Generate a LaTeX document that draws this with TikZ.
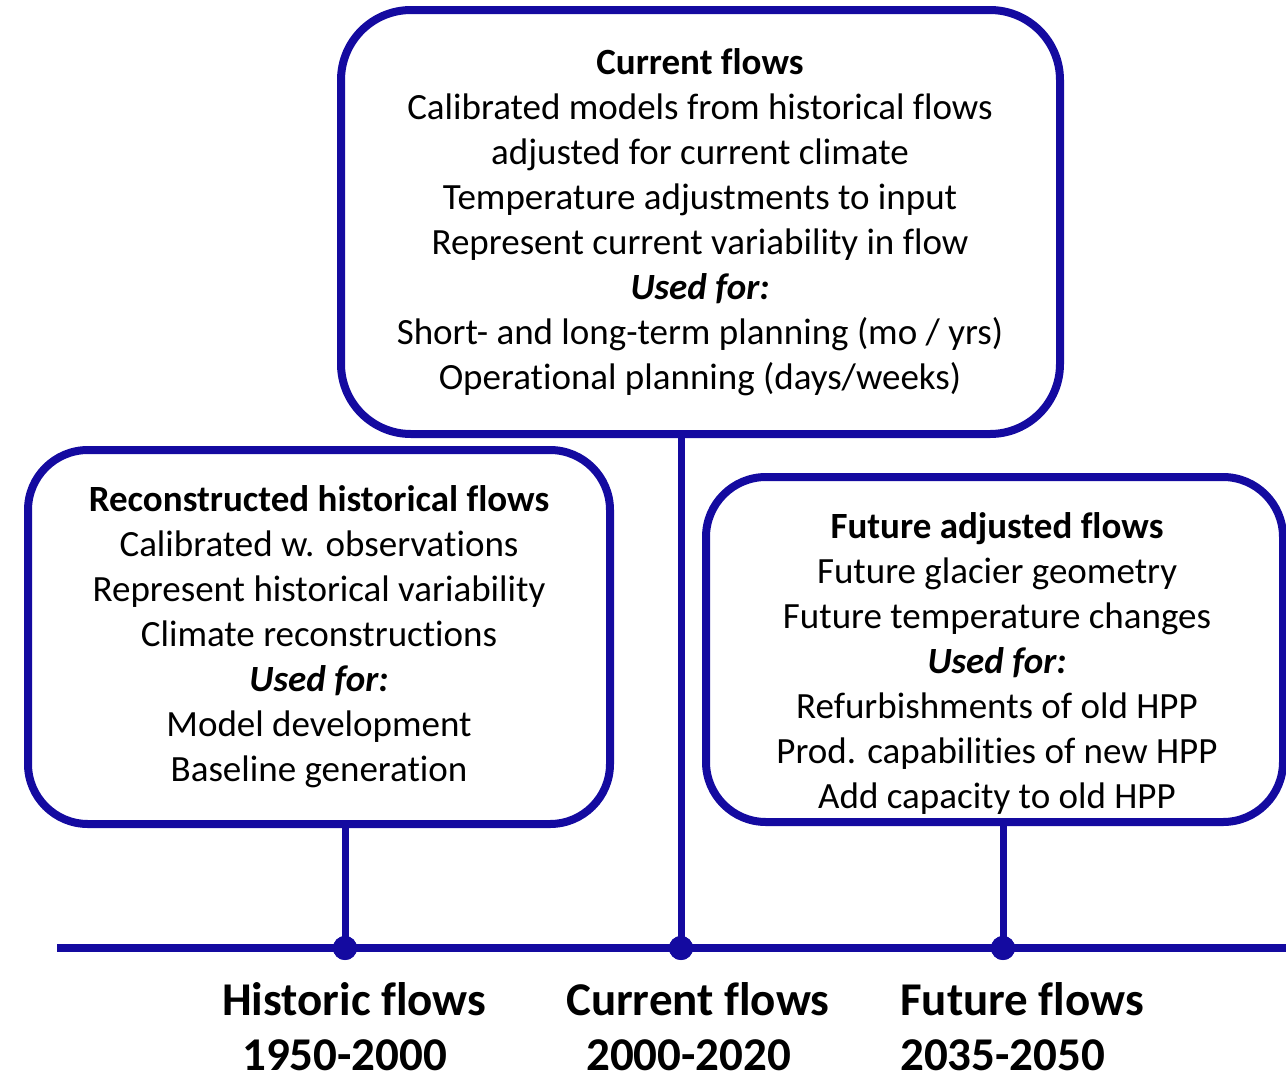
\documentclass[tikz,border=0pt]{standalone}
\usepackage{fontspec}
\setmainfont{Carlito}[RawFeature={-liga;-clig;-calt;-dlig}]
\definecolor{tlblue}{RGB}{20,10,160}
\begin{document}
\begin{tikzpicture}[x=1pt,y=-1pt,
  box/.style={draw=tlblue, line width=8pt, rounded corners=60pt, inner sep=0pt},
  txt/.style={align=center, font=\fontsize{37}{45}\selectfont, inner sep=0pt},
  lbl/.style={anchor=west, font=\fontsize{47}{54}\selectfont\bfseries, inner sep=0pt},
  link/.style={draw=tlblue, line width=7pt},
  dot/.style={circle, fill=tlblue, minimum size=24pt, inner sep=0pt}]
\clip (0,0) rectangle (1286,1072);
\fill[white] (0,0) rectangle (1286,1072);
% boxes
\node[box, rounded corners=70pt, minimum width=719pt, minimum height=424pt] (topbox) at (700.5,222) {};
\node[box, minimum width=582pt, minimum height=374pt] (leftbox) at (319,637) {};
\node[box, minimum width=577pt, minimum height=345pt] (rightbox) at (994.5,649.5) {};
% texts
\node[txt] (toptxt) at (700,222) {\textbf{Current flows}\\
Calibrated models from historical flows\\
adjusted for current climate\\
Temperature adjustments to input\\
Represent current variability in flow\\
\textbf{\textit{Used for:}}\\
Short- and long-term planning (mo / yrs)\\
Operational planning (days/weeks)};
\node[txt] (lefttxt) at (319,637) {\textbf{Reconstructed historical flows}\\
Calibrated w. observations\\
Represent historical variability\\
Climate reconstructions\\
\textbf{\textit{Used for:}}\\
Model development\\
Baseline generation};
\node[txt] (righttxt) at (997,663) {\textbf{Future adjusted flows}\\
Future glacier geometry\\
Future temperature changes\\
\textbf{\textit{Used for:}}\\
Refurbishments of old HPP\\
Prod. capabilities of new HPP\\
Add capacity to old HPP};
% timeline
\coordinate (tlstart) at (57,948);
\coordinate (tlend) at (1300,948);
\node[dot] (d1) at (345,948) {};
\node[dot] (d2) at (681,948) {};
\node[dot] (d3) at (1003,948) {};
\draw[link, line width=8pt] (tlstart) -- (tlend);
\draw[link] (d1 |- leftbox.south) -- (d1.center);
\draw[link] (d2 |- topbox.south) -- (d2.center);
\draw[link] (d3 |- rightbox.south) -- (d3.center);
\node[dot] at (d1) {};
\node[dot] at (d2) {};
\node[dot] at (d3) {};
% labels
\node[lbl] (l1a) at (222,999) {Historic flows};
\node[lbl] (l1b) at (242,1055) {1950-2000};
\node[lbl] (l2a) at (566,999) {Current flows};
\node[lbl] (l2b) at (586,1055) {2000-2020};
\node[lbl] (l3a) at (900,999) {Future flows};
\node[lbl] (l3b) at (900,1055) {2035-2050};
\end{tikzpicture}
\end{document}
